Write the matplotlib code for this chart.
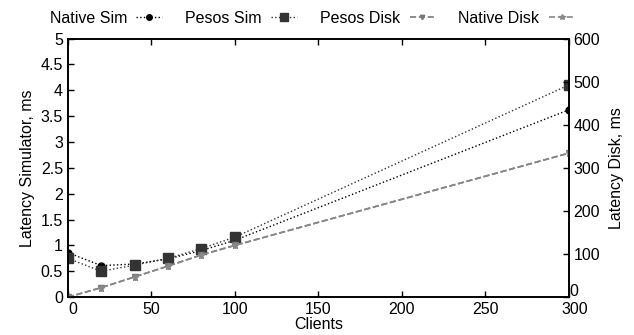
import matplotlib
matplotlib.use("Agg")
import matplotlib.pyplot as plt
from matplotlib.transforms import ScaledTranslation

plt.rcParams['font.family'] = ['Liberation Sans', 'DejaVu Sans']
plt.rcParams['font.size'] = 11.5

# data
clients = [0, 20, 40, 60, 80, 100, 300]
native_sim = [0.86, 0.61, 0.64, 0.74, 0.90, 1.10, 3.62]
pesos_sim = [0.75, 0.50, 0.62, 0.75, 0.94, 1.16, 4.10]
pesos_disk = [0, 22, 47, 72, 98, 120, 334]
native_disk = [0, 22, 47, 72, 98, 120, 334]

fig = plt.figure(figsize=(6.34, 3.35), dpi=100)
ax = fig.add_axes([0.107, 0.113, 0.79, 0.772])
ax2 = ax.twinx()

l1, = ax.plot(clients, native_sim, linestyle=':', color='black', lw=1,
              marker='o', ms=5, label='Native Sim')
l2, = ax.plot(clients, pesos_sim, linestyle=':', color='#333333', lw=1,
              marker='s', ms=7, label='Pesos Sim')
l3, = ax2.plot(clients, pesos_disk, linestyle='--', color='#777777', lw=1.2,
               marker='v', ms=4, label='Pesos Disk')
l4, = ax2.plot(clients, native_disk, linestyle='--', color='#888888', lw=1.2,
               marker='*', ms=5, label='Native Disk')

ax.set_xlim(0, 300)
ax.set_ylim(0, 5)
ax2.set_ylim(0, 600)
ax.set_xticks([0, 50, 100, 150, 200, 250, 300])
ax.set_yticks([0, 0.5, 1, 1.5, 2, 2.5, 3, 3.5, 4, 4.5, 5])
ax.set_yticklabels(['0', '0.5', '1', '1.5', '2', '2.5', '3', '3.5', '4', '4.5', '5'])
ax2.set_yticks([0, 100, 200, 300, 400, 500, 600])

ax.tick_params(axis='both', direction='in', length=4, width=1, top=True)
ax.tick_params(axis='y', right=False)
ax2.tick_params(axis='y', direction='in', length=4, width=1)
for a in (ax, ax2):
    for s in a.spines.values():
        s.set_linewidth(1.2)

# gnuplot-style nudges of the corner labels
fig.canvas.draw()
xl = ax.get_xticklabels()
xl[0].set_transform(xl[0].get_transform() + ScaledTranslation(5 / 100, 0, fig.dpi_scale_trans))
xl[-1].set_transform(xl[-1].get_transform() + ScaledTranslation(6 / 100, 0, fig.dpi_scale_trans))
yl = ax2.get_yticklabels()
yl[0].set_transform(yl[0].get_transform() + ScaledTranslation(-4 / 100, 7 / 100, fig.dpi_scale_trans))

ax.set_xlabel('Clients', labelpad=0)
ax.set_ylabel('Latency Simulator, ms', labelpad=4)
ax2.set_ylabel('Latency Disk, ms', labelpad=6)

fig.legend(handles=[l1, l2, l3, l4], loc='center left', ncol=4,
           bbox_to_anchor=(0.068, 0.945), frameon=False, markerfirst=False,
           handlelength=1.6, columnspacing=1.45, handletextpad=0.6,
           borderaxespad=0, markerscale=0.8)

fig.savefig('out.png', dpi=100)
